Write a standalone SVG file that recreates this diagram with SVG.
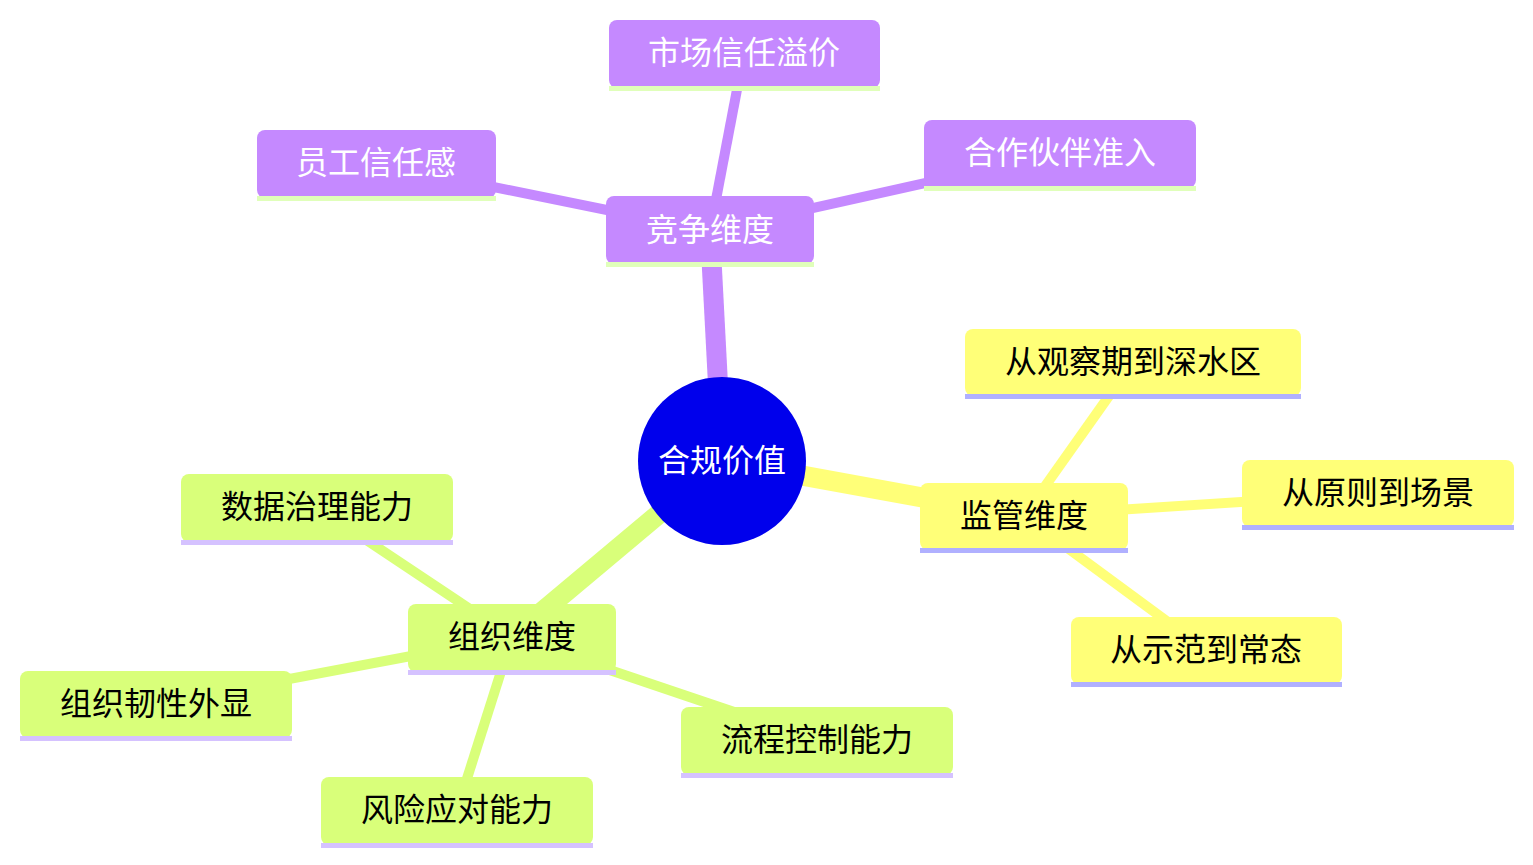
<svg xmlns="http://www.w3.org/2000/svg" width="1533" height="865" viewBox="0 0 1533 865">
<style>
.bg{fill:#ffffff}
.e0{fill:none;stroke-linecap:butt;stroke-width:20}
.e1{fill:none;stroke-linecap:butt;stroke-width:10}
.sp{stroke:#C589FF}
.sy{stroke:#FFFF78}
.sg{stroke:#D9FF7A}
.np{fill:#C589FF}
.ny{fill:#FFFF78}
.ng{fill:#D9FF7A}
.up{fill:#E0FFBA}
.uy{fill:#B0B0FF}
.ug{fill:#D5C2FF}
text{font-family:"Noto Sans CJK SC","Noto Sans",sans-serif;font-size:32px;text-anchor:middle}
.tw{fill:#ffffff}
.tb{fill:#000000}
</style>
<rect class="bg" x="0" y="0" width="1533" height="865"/>
<g id="connectors">
<line class="e0 sp" x1="722" y1="461" x2="710" y2="231"/>
<line class="e0 sy" x1="722" y1="461" x2="1024" y2="516"/>
<line class="e0 sg" x1="722" y1="461" x2="512" y2="637"/>
<line class="e1 sp" x1="710" y1="231" x2="744" y2="53"/>
<line class="e1 sp" x1="710" y1="231" x2="376" y2="163"/>
<line class="e1 sp" x1="710" y1="231" x2="1060" y2="153"/>
<line class="e1 sy" x1="1024" y1="516" x2="1133" y2="362"/>
<line class="e1 sy" x1="1024" y1="516" x2="1378" y2="493"/>
<line class="e1 sy" x1="1024" y1="516" x2="1206" y2="650"/>
<line class="e1 sg" x1="512" y1="637" x2="317" y2="507"/>
<line class="e1 sg" x1="512" y1="637" x2="156" y2="704"/>
<line class="e1 sg" x1="512" y1="637" x2="457" y2="810"/>
<line class="e1 sg" x1="512" y1="637" x2="817" y2="740"/>
</g>
<g id="root">
<circle cx="722" cy="461" r="84" fill="#0000EC"/>
<text class="tw" x="722" y="472">合规价值</text>
</g>
<g id="n-jingzheng">
<rect class="np" x="606" y="196" width="208" height="68" rx="8"/>
<rect class="up" x="606" y="262" width="208" height="5"/>
<text class="tw" x="710" y="241">竞争维度</text>
</g>
<g id="n-shichang">
<rect class="np" x="609" y="20" width="271" height="68" rx="8"/>
<rect class="up" x="609" y="86" width="271" height="5"/>
<text class="tw" x="744" y="64">市场信任溢价</text>
</g>
<g id="n-yuangong">
<rect class="np" x="257" y="130" width="239" height="68" rx="8"/>
<rect class="up" x="257" y="196" width="239" height="5"/>
<text class="tw" x="376" y="174">员工信任感</text>
</g>
<g id="n-hezuo">
<rect class="np" x="924" y="120" width="272" height="68" rx="8"/>
<rect class="up" x="924" y="186" width="272" height="5"/>
<text class="tw" x="1060" y="164">合作伙伴准入</text>
</g>
<g id="n-jianguan">
<rect class="ny" x="920" y="483" width="208" height="67" rx="8"/>
<rect class="uy" x="920" y="548" width="208" height="5"/>
<text class="tb" x="1024" y="527">监管维度</text>
</g>
<g id="n-guancha">
<rect class="ny" x="965" y="329" width="336" height="67" rx="8"/>
<rect class="uy" x="965" y="394" width="336" height="5"/>
<text class="tb" x="1133" y="373">从观察期到深水区</text>
</g>
<g id="n-yuanze">
<rect class="ny" x="1242" y="460" width="272" height="67" rx="8"/>
<rect class="uy" x="1242" y="525" width="272" height="5"/>
<text class="tb" x="1378" y="504">从原则到场景</text>
</g>
<g id="n-shifan">
<rect class="ny" x="1071" y="617" width="271" height="67" rx="8"/>
<rect class="uy" x="1071" y="682" width="271" height="5"/>
<text class="tb" x="1206" y="661">从示范到常态</text>
</g>
<g id="n-zuzhi">
<rect class="ng" x="408" y="604" width="208" height="68" rx="8"/>
<rect class="ug" x="408" y="670" width="208" height="5"/>
<text class="tb" x="512" y="648">组织维度</text>
</g>
<g id="n-shuju">
<rect class="ng" x="181" y="474" width="272" height="68" rx="8"/>
<rect class="ug" x="181" y="540" width="272" height="5"/>
<text class="tb" x="317" y="518">数据治理能力</text>
</g>
<g id="n-renxing">
<rect class="ng" x="20" y="671" width="272" height="67" rx="8"/>
<rect class="ug" x="20" y="736" width="272" height="5"/>
<text class="tb" x="156" y="715">组织韧性外显</text>
</g>
<g id="n-fengxian">
<rect class="ng" x="321" y="777" width="272" height="68" rx="8"/>
<rect class="ug" x="321" y="843" width="272" height="5"/>
<text class="tb" x="457" y="821">风险应对能力</text>
</g>
<g id="n-liucheng">
<rect class="ng" x="681" y="707" width="272" height="68" rx="8"/>
<rect class="ug" x="681" y="773" width="272" height="5"/>
<text class="tb" x="817" y="751">流程控制能力</text>
</g>
</svg>
